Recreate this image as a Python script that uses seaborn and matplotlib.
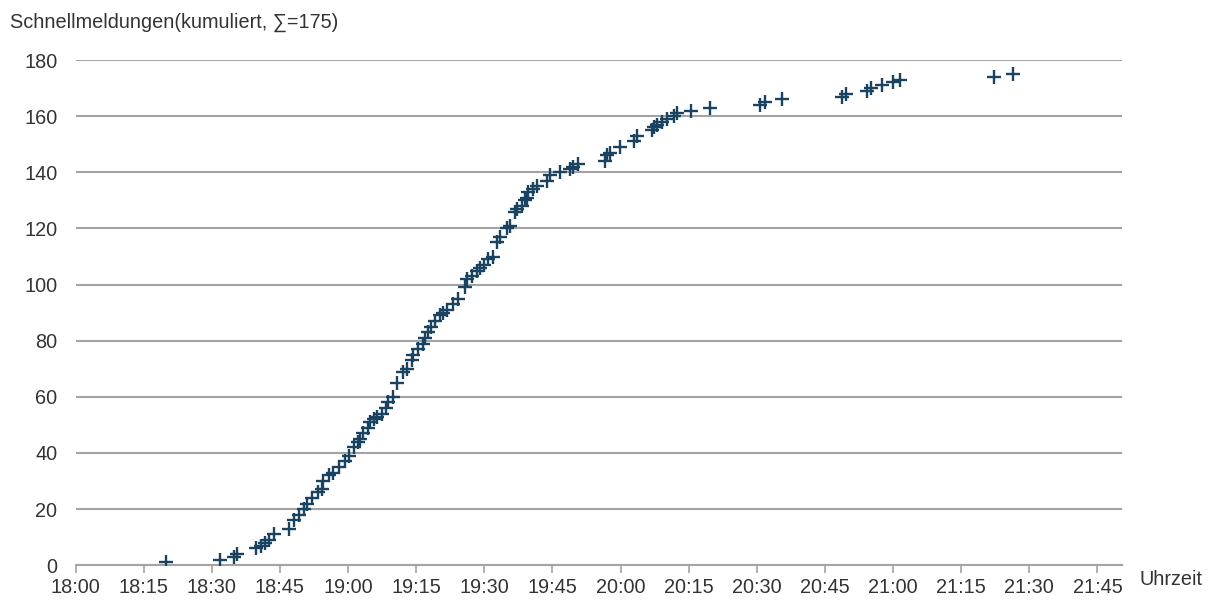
import matplotlib
matplotlib.use("Agg")
import matplotlib.pyplot as plt
import seaborn as sns
import pandas as pd

# minutes after 18:00 and cumulative count of reports
minutes = [19.9, 31.8, 35.0, 35.6, 39.8, 40.8, 41.7, 42.5, 43.6, 47.0,
           48.1, 49.3, 50.3, 50.9, 52.0, 53.3, 54.2, 54.5, 55.9, 56.6,
           58.0, 59.4, 60.3, 61.3, 62.3, 62.7, 63.4, 64.3, 64.9, 65.7,
           66.3, 67.4, 68.4, 68.9, 70.0, 70.7, 72.2, 72.9, 74.1, 74.4,
           75.5, 76.5, 77.0, 77.7, 78.2, 79.2, 80.3, 81.0, 81.8, 83.2,
           84.3, 85.8, 86.3, 87.3, 88.4, 89.1, 90.0, 90.9, 92.0, 92.8,
           93.5, 95.0, 95.7, 96.8, 97.3, 98.3, 99.0, 99.4, 99.7, 100.7,
           101.6, 103.8, 104.5, 106.7, 108.8, 109.6, 110.7, 116.6, 117.0, 117.7,
           119.9, 122.9, 123.6, 126.9, 127.3, 128.0, 129.1, 130.2, 131.7, 132.4,
           135.5, 139.6, 150.6, 151.7, 155.5, 168.8, 169.6, 174.3, 175.2, 177.6,
           180.0, 181.6, 202.3, 206.3]
cumulative = [1, 2, 3, 4, 6, 7, 8, 9, 11, 13,
              16, 18, 20, 22, 24, 26, 27, 30, 32, 33,
              35, 37, 39, 42, 44, 45, 47, 49, 51, 52,
              53, 54, 56, 58, 60, 65, 69, 70, 73, 75,
              77, 79, 81, 83, 85, 87, 89, 90, 91, 93,
              95, 99, 102, 103, 105, 106, 107, 109, 110, 115,
              117, 120, 121, 126, 127, 128, 130, 131, 133, 134,
              135, 137, 139, 140, 141, 142, 143, 144, 146, 147,
              149, 151, 153, 155, 156, 157, 158, 159, 160, 161,
              162, 163, 164, 165, 166, 167, 168, 169, 170, 171,
              172, 173, 174, 175]

tick_labels = ["18:00", "18:15", "18:30", "18:45", "19:00", "19:15", "19:30",
               "19:45", "20:00", "20:15", "20:30", "20:45", "21:00", "21:15",
               "21:30", "21:45"]
y_ticks = [0, 20, 40, 60, 80, 100, 120, 140, 160, 180]

title = "Schnellmeldungen(kumuliert, \u2211=175)"
x_label = "Uhrzeit"

df = pd.DataFrame({"min": minutes, "n": cumulative})

sns.set_style("white")
plt.rcParams["font.family"] = ["Liberation Sans", "DejaVu Sans"]

fig = plt.figure(figsize=(12.14, 6.02), dpi=100)
ax = fig.add_axes([0.0622, 0.061, 0.862, 0.8393])

text_col = "#333333"
grid_col = "#a3a3a3"
mark_col = "#1a4261"
fs = 14.3

sns.scatterplot(data=df, x="min", y="n", marker="+", s=110, color=mark_col,
                linewidth=1.7, ax=ax, zorder=3)

ax.set_xlim(0, 230.4)
ax.set_ylim(0, 180)
ax.set_xticks([15 * i for i in range(len(tick_labels))])
ax.set_xticklabels(tick_labels, fontsize=fs, color=text_col)
ax.set_yticks(y_ticks)
ax.set_yticklabels([str(v) for v in y_ticks], fontsize=fs, color=text_col)
ax.set_xlabel("")
ax.set_ylabel("")

ax.grid(axis="y", color=grid_col, linewidth=1.5)
ax.grid(axis="x", visible=False)
ax.set_axisbelow(True)
for s in ["left", "right", "top"]:
    ax.spines[s].set_visible(False)
ax.spines["bottom"].set_color(grid_col)
ax.spines["bottom"].set_linewidth(1.5)
ax.tick_params(axis="x", direction="out", length=6, width=1.2, color=grid_col, pad=3, bottom=True)
ax.tick_params(axis="y", length=0, pad=13)

fig.text(0.008, 0.962, title, fontsize=fs, color=text_col, ha="left", va="center")
fig.text(0.939, 0.038, x_label, fontsize=fs, color=text_col, ha="left", va="center")

fig.savefig("out.png", dpi=100)
